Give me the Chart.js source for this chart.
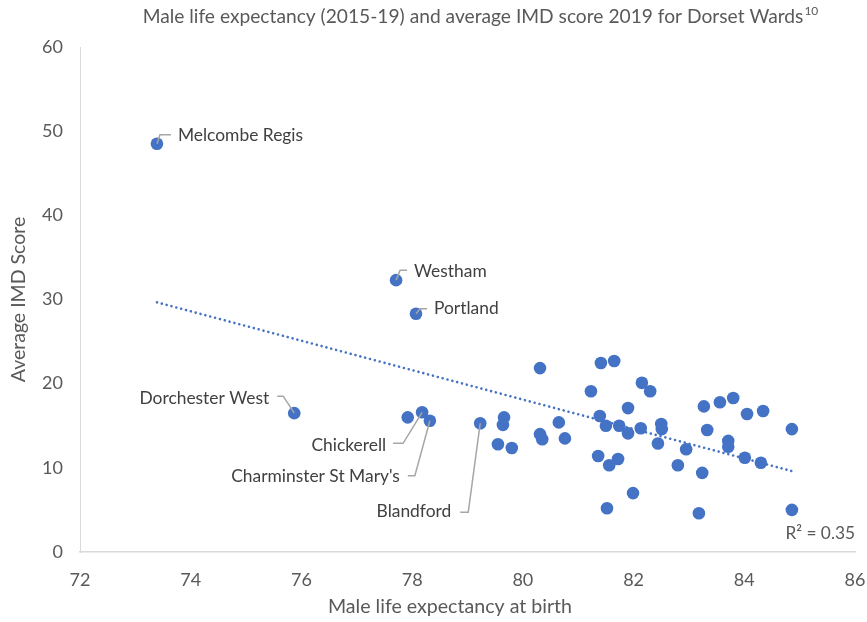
<!DOCTYPE html>
<html>
<head>
<meta charset="utf-8">
<script src="https://cdn.jsdelivr.net/npm/chart.js@4.4.1/dist/chart.umd.min.js"></script>
<style>
  html, body { margin: 0; padding: 0; background: #fff; }
</style>
</head>
<body>
<canvas id="chart" width="867" height="622"></canvas>
<script>
// Ward data
const lifeExp = [
  73.39, 77.71, 78.07, 75.87, 77.92, 78.18, 78.32, 79.23, 79.66, 79.64, 79.55, 79.80, 80.31, 80.31, 80.35, 80.65, 80.76,
  81.41, 81.65, 81.23, 82.15, 82.30, 81.90, 81.39, 81.50, 81.74, 81.90, 82.13, 82.50, 82.51, 82.44, 82.95, 82.80, 81.36, 81.56, 81.72, 81.99, 81.52,
  83.27, 83.56, 83.80, 84.05, 84.34, 84.86, 83.33, 83.71, 83.71, 83.24, 84.01, 84.30, 83.18, 84.86
];
const imdScore = [
  48.5, 32.3, 28.3, 16.5, 16.0, 16.6, 15.6, 15.3, 16.0, 15.1, 12.8, 12.35, 21.85, 14.0, 13.4, 15.4, 13.5,
  22.45, 22.7, 19.1, 20.1, 19.1, 17.1, 16.15, 15.0, 15.0, 14.1, 14.7, 15.2, 14.6, 12.9, 12.2, 10.3, 11.4, 10.3, 11.05, 7.0, 5.2,
  17.3, 17.8, 18.3, 16.4, 16.75, 14.6, 14.5, 13.2, 12.5, 9.4, 11.2, 10.6, 4.6, 5.0
];
const wardNames = [
  "Melcombe Regis", "Westham", "Portland", "Dorchester West", "", "Chickerell", "Charminster St Mary's", "Blandford"
];
const xRange = [72, 86, 2];
const yRange = [0, 60, 10];
const r2Text = "R² = 0.35";

const FONT = "Lato, 'Liberation Sans', sans-serif";
const GREY = "#595959";
const BLUE = "#4472C4";

// least squares trend line across the data
function trend(xs, ys) {
  const n = xs.length;
  const mx = xs.reduce((s, v) => s + v, 0) / n;
  const my = ys.reduce((s, v) => s + v, 0) / n;
  let sxy = 0, sxx = 0;
  xs.forEach((x, i) => { sxy += (x - mx) * (ys[i] - my); sxx += (x - mx) * (x - mx); });
  const b = sxy / sxx;
  const a = my - b * mx;
  const x0 = Math.min(...xs), x1 = Math.max(...xs);
  return [{ x: x0, y: a + b * x0 }, { x: x1, y: a + b * x1 }];
}

const points = lifeExp.map((x, i) => ({ x: x, y: imdScore[i] }));

// where each ward label and its leader line sit, relative to the point (px)
const labelLayout = {
  "Melcombe Regis": { leader: [[3, -9], [14, -9]], text: [21, -8], align: "left" },
  "Westham": { leader: [[4, -10], [11, -10]], text: [18, -9], align: "left" },
  "Portland": { leader: [[4, -5], [11, -5]], text: [18, -5], align: "left" },
  "Dorchester West": { leader: [[-11, -17], [-17, -17]], text: [-25, -15], align: "right" },
  "Chickerell": { leader: [[-19, 31], [-29, 31]], text: [-36, 33], align: "right" },
  "Charminster St Mary's": { leader: [[-15, 55], [-22, 55]], text: [-30, 56], align: "right" },
  "Blandford": { leader: [[-12, 89], [-20, 89]], text: [-29, 88], align: "right" }
};

const wardLabels = {
  id: "wardLabels",
  afterDatasetsDraw(chart) {
    const ctx = chart.ctx;
    const meta = chart.getDatasetMeta(1);
    ctx.save();
    wardNames.forEach((name, i) => {
      const lay = labelLayout[name];
      if (!name || !lay) return;
      const p = meta.data[i];
      ctx.strokeStyle = "#a6a6a6";
      ctx.lineWidth = 1.5;
      ctx.beginPath();
      ctx.moveTo(p.x, p.y);
      lay.leader.forEach(([dx, dy]) => ctx.lineTo(p.x + dx, p.y + dy));
      ctx.stroke();
      ctx.fillStyle = "#404040";
      ctx.font = "17.4px " + FONT;
      ctx.textAlign = lay.align;
      ctx.textBaseline = "middle";
      ctx.fillText(name, p.x + lay.text[0], p.y + lay.text[1]);
    });
    // R squared
    const area = chart.chartArea;
    ctx.fillStyle = GREY;
    ctx.font = "17.3px " + FONT;
    ctx.textAlign = "right";
    ctx.fillText(r2Text, area.right, area.bottom - 19);
    ctx.restore();
  }
};

const chartTitle = {
  id: "chartTitle",
  afterDraw(chart) {
    const ctx = chart.ctx;
    const main = "Male life expectancy (2015-19) and average IMD score 2019 for Dorset Wards";
    const sup = "10";
    ctx.save();
    ctx.font = "19.2px " + FONT;
    const w1 = ctx.measureText(main).width;
    ctx.font = "12px " + FONT;
    const w2 = ctx.measureText(sup).width;
    const x = 480 - (w1 + w2) / 2;
    ctx.fillStyle = GREY;
    ctx.textBaseline = "middle";
    ctx.textAlign = "left";
    ctx.font = "19.2px " + FONT;
    ctx.fillText(main, x, 17);
    ctx.font = "12px " + FONT;
    ctx.fillText(sup, x + w1 + 1, 11);
    // x axis title
    ctx.font = "19.6px " + FONT;
    ctx.textAlign = "center";
    ctx.fillText("Male life expectancy at birth", 450, 607);
    ctx.restore();
  }
};

new Chart(document.getElementById("chart"), {
  data: {
    datasets: [
      {
        type: "line",
        data: trend(lifeExp, imdScore),
        borderColor: BLUE,
        borderWidth: 2.6,
        borderDash: [0.01, 5],
        borderCapStyle: "round",
        pointRadius: 0,
        fill: false
      },
      {
        type: "scatter",
        data: points,
        backgroundColor: BLUE,
        borderColor: BLUE,
        pointRadius: 6.3,
        pointHoverRadius: 6.3,
        borderWidth: 0
      }
    ]
  },
  options: {
    responsive: false,
    animation: false,
    layout: { padding: { top: 47, right: 0, left: 0, bottom: 0 } },
    plugins: { legend: { display: false }, tooltip: { enabled: false } },
    scales: {
      x: {
        type: "linear",
        min: xRange[0], max: xRange[1],
        ticks: { stepSize: xRange[2], color: GREY, font: { size: 18, family: FONT }, padding: 9 },
        grid: { display: false },
        border: { display: true, color: "#d9d9d9", width: 1.5 },
        afterFit(scale) {
          scale.height = 70;
          scale.paddingLeft = 0;
          scale.paddingRight = 12;
        }
      },
      y: {
        min: yRange[0], max: yRange[1],
        ticks: { stepSize: yRange[2], color: GREY, font: { size: 18, family: FONT }, padding: 9 },
        grid: { display: false },
        border: { display: true, color: "#d9d9d9", width: 1 },
        title: { display: true, text: "Average IMD Score", color: GREY,
          font: { size: 19.5, family: FONT }, padding: { top: 7, bottom: 0 } },
        afterFit(scale) { scale.width = 80; }
      }
    }
  },
  plugins: [wardLabels, chartTitle]
});
</script>
</body>
</html>
